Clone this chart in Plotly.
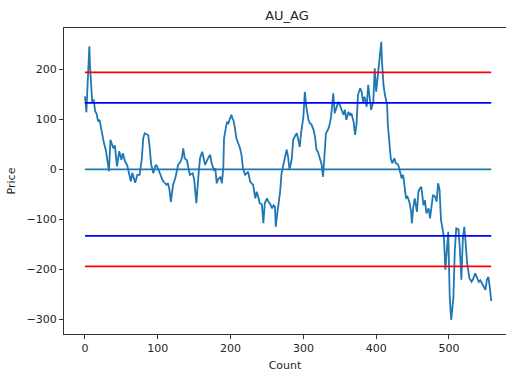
import plotly.graph_objects as go

count = [0, 1, 2, 3, 4, 5, 6, 7, 8, 9, 10, 12, 14, 16, 18, 20, 22, 24, 26, 29, 31, 33, 35, 37, 39, 41, 44, 47, 50, 52, 55, 58, 60, 63, 65, 67, 69, 72, 75, 78, 80, 82, 85, 87, 89, 91, 94, 96, 98, 101, 103, 106, 108, 112, 114, 116, 118, 121, 124, 128, 131, 133, 135, 137, 140, 144, 148, 150, 152, 153, 156, 158, 161, 163, 165, 169, 172, 174, 177, 179, 181, 183, 186, 188, 190, 191, 193, 195, 197, 199, 201, 203, 204, 206, 208, 211, 213, 215, 217, 220, 224, 227, 231, 234, 236, 238, 240, 243, 245, 247, 250, 252, 254, 257, 259, 261, 262, 264, 266, 268, 270, 273, 275, 277, 279, 281, 284, 286, 288, 291, 293, 295, 297, 300, 302, 304, 307, 309, 311, 314, 316, 318, 320, 322, 325, 327, 329, 331, 334, 336, 338, 341, 343, 346, 348, 350, 352, 355, 357, 359, 362, 364, 366, 369, 371, 373, 375, 378, 380, 382, 384, 387, 389, 391, 393, 396, 398, 400, 403, 405, 407, 408, 410, 412, 415, 416, 418, 420, 422, 425, 427, 430, 432, 435, 437, 439, 441, 443, 446, 448, 449, 451, 453, 456, 458, 460, 462, 465, 467, 469, 472, 474, 476, 478, 481, 483, 485, 487, 489, 491, 493, 495, 497, 499, 501, 503, 506, 508, 510, 513, 515, 517, 519, 521, 523, 525, 528, 531, 533, 536, 538, 541, 543, 546, 548, 550, 552, 554, 556, 558]
price = [146, 128, 114, 150, 196, 212, 246, 205, 170, 149, 133, 140, 116, 111, 96, 99, 82, 70, 53, 36, 19, -4, 59, 48, 42, 48, 6, 36, 19, 32, 16, 8, -5, -24, -7, -15, -27, -11, -11, 20, 62, 72, 70, 68, 42, 9, -8, 5, 9, -4, -8, -20, -25, -31, -28, -40, -65, -31, -18, 9, 15, 22, 42, 22, 18, -11, -8, -20, -45, -68, -11, 22, 35, 20, 9, 22, 29, 12, -1, 2, -28, -20, -15, -28, 2, 62, 78, 95, 92, 102, 109, 100, 98, 82, 62, 50, 42, 29, 2, -11, -5, -25, -31, -58, -45, -55, -68, -70, -108, -68, -58, -65, -68, -78, -72, -75, -115, -90, -68, -45, -8, 12, 25, 39, 25, -1, 20, 59, 65, 72, 59, 45, 75, 105, 155, 125, 99, 92, 90, 79, 65, 39, 35, 25, 10, -15, 25, 72, 80, 89, 105, 152, 112, 125, 135, 129, 119, 109, 119, 99, 115, 109, 112, 95, 69, 91, 149, 162, 155, 135, 145, 125, 169, 142, 119, 135, 202, 155, 195, 229, 255, 215, 169, 149, 129, 89, 49, 22, 12, 22, 12, 10, -1, -18, -11, -35, -58, -55, -68, -85, -108, -75, -58, -85, -45, -38, -35, -72, -62, -88, -78, -98, -75, -51, -55, -65, -28, -40, -101, -121, -135, -201, -160, -125, -255, -301, -258, -161, -118, -120, -161, -221, -140, -115, -150, -188, -218, -225, -220, -208, -215, -225, -222, -231, -238, -241, -221, -215, -235, -263]

line_span = [0, 558]
upper2, upper1, mid, lower1, lower2 = 194, 133, 0, -133, -194

y_ticks = [-300, -200, -100, 0, 100, 200]
x_ticks = [0, 100, 200, 300, 400, 500]

fig = go.Figure()
fig.add_trace(go.Scatter(x=count, y=price, mode="lines",
                         line=dict(color="#1f77b4", width=1.8)))
for val, col in [(upper2, "#ff0000"), (upper1, "#0000ff"), (mid, "#1f77b4"),
                 (lower1, "#0000ff"), (lower2, "#ff0000")]:
    fig.add_trace(go.Scatter(x=line_span, y=[val, val], mode="lines",
                             line=dict(color=col, width=1.8)))

font = dict(family="DejaVu Sans", size=11, color="#262626")
fig.update_layout(
    width=507, height=374,
    margin=dict(l=64, r=1, t=28, b=40),
    paper_bgcolor="white", plot_bgcolor="white",
    showlegend=False,
    font=font,
    title=dict(text="AU_AG", x=287 / 507, xref="container", xanchor="center",
               y=1 - 15 / 374, yref="container", yanchor="middle",
               font=dict(family="DejaVu Sans", size=13, color="#262626")),
    xaxis=dict(range=[-28.8, 578.3], tickvals=x_ticks, showgrid=False,
               zeroline=False, showline=True, mirror=True, linecolor="#333",
               linewidth=1, ticks="outside", ticklen=4, tickcolor="#333",
               tickfont=font,
               title=dict(text="Count", standoff=7, font=font)),
    yaxis=dict(range=[-329.4, 282.6], tickvals=y_ticks, showgrid=False,
               zeroline=False, showline=True, mirror=False, linecolor="#333",
               linewidth=1, ticks="outside", ticklen=4, tickcolor="#333",
               tickfont=font,
               title=dict(text="Price", standoff=8, font=font)),
)
fig.write_html("out.html")
